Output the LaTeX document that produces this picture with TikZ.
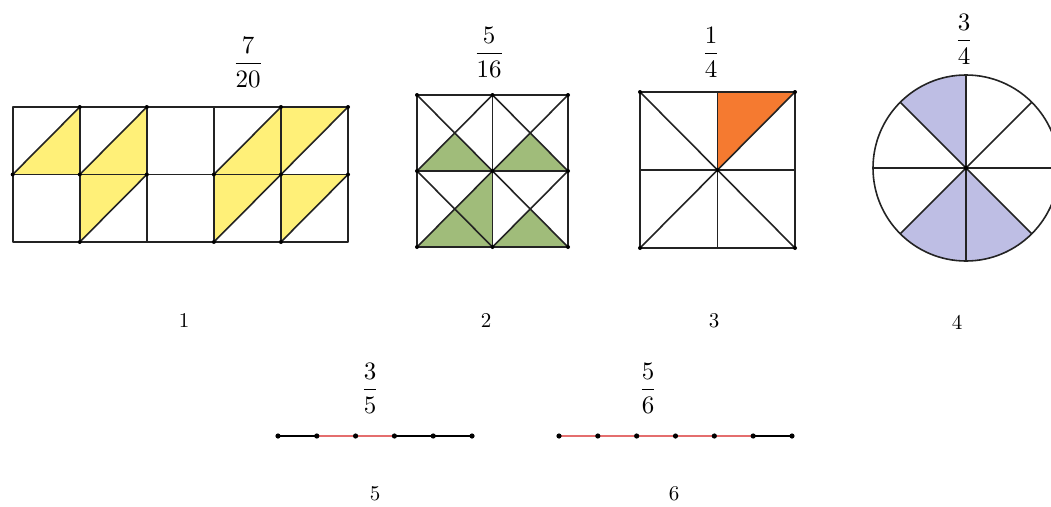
\documentclass[tikz,border=0pt]{standalone}
\usepackage{amsmath}
\definecolor{fyellow}{RGB}{255,240,120}
\definecolor{fgreen}{RGB}{160,188,122}
\definecolor{forange}{RGB}{245,122,48}
\definecolor{flav}{RGB}{190,190,228}
\definecolor{fred}{RGB}{228,110,110}
\definecolor{fline}{RGB}{35,35,35}
\tikzset{
  gridline/.style={draw=fline, line width=1.6pt, line join=round},
  fraclabel/.style={inner sep=0pt, scale=2.5},
  numlabel/.style={inner sep=0pt, scale=2.1},
  vdot/.style={fill=black},
}
\begin{document}
\begin{tikzpicture}[x=1pt,y=-1pt]
\useasboundingbox (0,0) rectangle (1051,506);

% ---------- Figure 1 ----------
\begin{scope}[shift={(12.7,107)}, x=67.06pt, y=-67.5pt]
  \fill[fyellow] (0,1) -- (1,0) -- (1,1) -- cycle;
  \fill[fyellow] (1,1) -- (2,0) -- (2,1) -- cycle;
  \fill[fyellow] (1,1) -- (2,1) -- (1,2) -- cycle;
  \fill[fyellow] (3,1) -- (4,0) -- (4,1) -- cycle;
  \fill[fyellow] (3,1) -- (4,1) -- (3,2) -- cycle;
  \fill[fyellow] (4,0) -- (5,0) -- (4,1) -- cycle;
  \fill[fyellow] (4,1) -- (5,1) -- (4,2) -- cycle;
  \draw[gridline] (0,0) rectangle (5,2);
  \draw[gridline] (0,1) -- (5,1);
  \foreach \c in {1,2,3,4} \draw[gridline] (\c,0) -- (\c,2);
  \draw[gridline] (0,1) -- (1,0);
  \draw[gridline] (1,1) -- (2,0);
  \draw[gridline] (1,2) -- (2,1);
  \draw[gridline] (3,1) -- (4,0);
  \draw[gridline] (3,2) -- (4,1);
  \draw[gridline] (4,1) -- (5,0);
  \draw[gridline] (4,2) -- (5,1);
  \foreach \p in {(1,0),(2,0),(4,0),(5,0),(0,1),(1,1),(2,1),(3,1),(4,1),(5,1),(1,2),(3,2),(4,2)}
    \fill[vdot] \p circle[radius=2pt];
\end{scope}

% ---------- Figure 2 ----------
\begin{scope}[shift={(417,95)}, x=75.5pt, y=-76pt]
  \fill[fgreen] (0,1) -- (1,1) -- (0.5,0.5) -- cycle;
  \fill[fgreen] (1,1) -- (2,1) -- (1.5,0.5) -- cycle;
  \fill[fgreen] (0,2) -- (1,2) -- (0.5,1.5) -- cycle;
  \fill[fgreen] (1,1) -- (1,2) -- (0.5,1.5) -- cycle;
  \fill[fgreen] (1,2) -- (2,2) -- (1.5,1.5) -- cycle;
  \draw[gridline] (0,0) rectangle (2,2);
  \draw[gridline] (1,0) -- (1,2);
  \draw[gridline] (0,1) -- (2,1);
  \foreach \i in {0,1} \foreach \j in {0,1} {
    \draw[gridline] (\i,\j) -- (\i+1,\j+1);
    \draw[gridline] (\i+1,\j) -- (\i,\j+1);
  }
  \foreach \i in {0,1,2} \foreach \j in {0,1,2}
    \fill[vdot] (\i,\j) circle[radius=2pt];
\end{scope}

% ---------- Figure 3 ----------
\begin{scope}[shift={(640,92)}, x=77.5pt, y=-78pt]
  \fill[forange] (1,0) -- (2,0) -- (1,1) -- cycle;
  \draw[gridline] (0,0) rectangle (2,2);
  \draw[gridline] (1,0) -- (1,2);
  \draw[gridline] (0,1) -- (2,1);
  \draw[gridline] (0,0) -- (2,2);
  \draw[gridline] (2,0) -- (0,2);
  \foreach \p in {(0,0),(2,0),(0,2),(2,2),(1,1)}
    \fill[vdot] \p circle[radius=2pt];
\end{scope}

% ---------- Figure 4 ----------
\begin{scope}[shift={(966,168)}, x=1pt, y=1pt]
  \fill[flav] (0,0) -- (90:93) arc[start angle=90, end angle=135, radius=93] -- cycle;
  \fill[flav] (0,0) -- (225:93) arc[start angle=225, end angle=315, radius=93] -- cycle;
  \draw[gridline] (0,0) circle[radius=93];
  \foreach \a in {0,45,90,135} \draw[gridline] (\a:93) -- (\a+180:93);
  \fill[vdot] (0,0) circle[radius=2.2pt];
\end{scope}

% ---------- Number lines ----------
\draw[black, line width=1.2pt] (278,436) -- (472,436);
\draw[fred, line width=1.5pt] (316.8,436) -- (394.4,436);
\foreach \k in {0,...,5} \fill[vdot] (278+38.8*\k,436) circle[radius=2.6pt];

\draw[black, line width=1.2pt] (559,436) -- (792,436);
\draw[fred, line width=1.5pt] (559,436) -- (753.2,436);
\foreach \k in {0,...,6} \fill[vdot] (559+38.83*\k,436) circle[radius=2.6pt];

% ---------- Fraction labels ----------
\node[fraclabel] (f1) at (248,62) {$\dfrac{7}{20}$};
\node[fraclabel] (f2) at (489,52) {$\dfrac{5}{16}$};
\node[fraclabel] (f3) at (711,52) {$\dfrac{1}{4}$};
\node[fraclabel] (f4) at (964,39) {$\dfrac{3}{4}$};
\node[fraclabel] (f5) at (370,388) {$\dfrac{3}{5}$};
\node[fraclabel] (f6) at (648,388) {$\dfrac{5}{6}$};

% ---------- Number labels ----------
\node[numlabel] (n1) at (184,321) {1};
\node[numlabel] (n2) at (486,321) {2};
\node[numlabel] (n3) at (714,321) {3};
\node[numlabel] (n4) at (957,322) {4};
\node[numlabel] (n5) at (375,494) {5};
\node[numlabel] (n6) at (674,494) {6};
\end{tikzpicture}
\end{document}
